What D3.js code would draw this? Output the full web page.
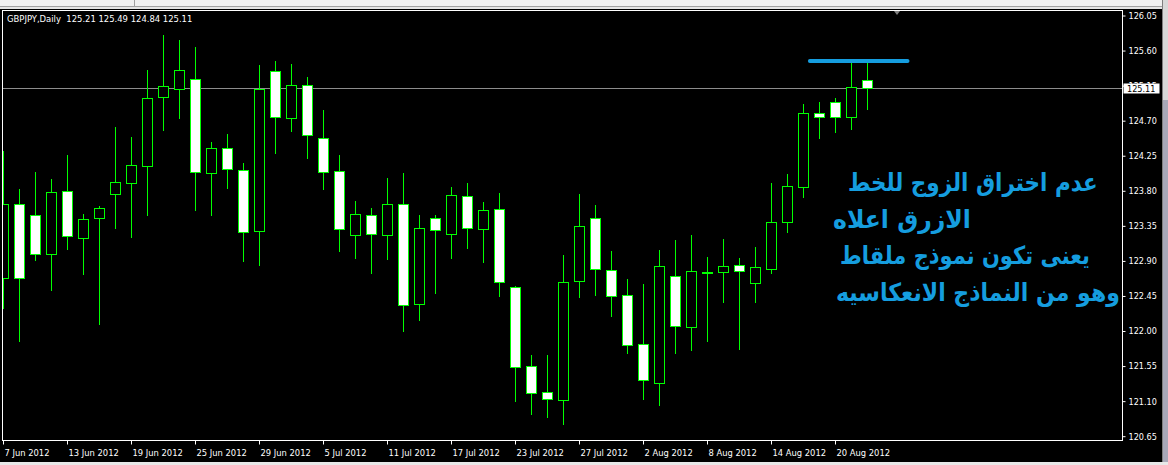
<!DOCTYPE html>
<html>
<head>
<meta charset="utf-8">
<script src="https://cdn.jsdelivr.net/npm/d3@7/dist/d3.min.js"></script>
<style>
  html, body { margin: 0; padding: 0; background: #000; overflow: hidden; }
  svg { display: block; }
</style>
</head>
<body>
<svg id="chart" width="1168" height="465"></svg>
<script>
// ---------- DATA ----------
const symbol = "GBPJPY,Daily";
const lastQuote = [125.21, 125.49, 124.84, 125.11]; // O H L C of last bar

const dates = [
  "7 Jun 2012","8 Jun 2012","11 Jun 2012","12 Jun 2012","13 Jun 2012","14 Jun 2012","15 Jun 2012",
  "18 Jun 2012","19 Jun 2012","20 Jun 2012","21 Jun 2012","22 Jun 2012",
  "25 Jun 2012","26 Jun 2012","27 Jun 2012","28 Jun 2012","29 Jun 2012",
  "2 Jul 2012","3 Jul 2012","4 Jul 2012","5 Jul 2012","6 Jul 2012",
  "9 Jul 2012","10 Jul 2012","11 Jul 2012","12 Jul 2012","13 Jul 2012",
  "16 Jul 2012","17 Jul 2012","18 Jul 2012","19 Jul 2012","20 Jul 2012",
  "23 Jul 2012","24 Jul 2012","25 Jul 2012","26 Jul 2012","27 Jul 2012",
  "30 Jul 2012","31 Jul 2012","1 Aug 2012","2 Aug 2012","3 Aug 2012",
  "6 Aug 2012","7 Aug 2012","8 Aug 2012","9 Aug 2012","10 Aug 2012",
  "13 Aug 2012","14 Aug 2012","15 Aug 2012","16 Aug 2012","17 Aug 2012",
  "20 Aug 2012","21 Aug 2012","22 Aug 2012"
];

const opens  = [122.670,123.624,123.479,122.978,123.787,123.184,123.440,123.748,123.890,124.108,
                124.994,125.104,125.225,124.018,124.339,124.056,123.273,125.327,124.724,125.148,
                124.467,124.044,123.222,123.479,123.222,123.620,122.336,123.440,123.235,123.723,
                123.299,123.556,122.554,121.540,121.207,121.104,122.632,123.440,122.773,122.452,
                121.823,121.322,122.696,122.041,122.755,122.747,122.837,122.606,122.796,123.399,
                123.838,124.788,124.929,124.737,125.21];
const highs  = [124.304,123.816,124.035,123.945,124.253,123.495,123.598,124.612,124.484,125.340,
                125.793,125.729,125.639,124.420,124.522,124.146,125.408,125.460,125.421,125.254,
                124.830,124.253,123.662,123.569,123.958,124.022,123.483,123.483,123.842,123.893,
                123.649,123.765,122.571,121.685,121.685,122.969,123.752,123.611,123.020,122.661,
                122.597,123.033,123.162,123.226,122.943,123.175,122.931,123.072,123.893,124.009,
                124.908,124.929,124.985,125.460,125.49];
const lows   = [122.285,121.869,122.909,122.524,123.050,122.729,122.087,123.320,123.204,123.486,
                124.578,124.732,123.551,123.486,123.833,122.896,122.845,124.282,124.565,124.218,
                123.820,123.024,122.934,122.742,122.922,121.997,122.139,122.485,122.934,123.063,
                122.883,122.447,121.099,120.932,120.893,120.804,122.434,122.459,122.190,121.715,
                121.125,121.047,121.715,121.753,121.869,122.370,121.766,122.370,122.742,123.271,
                123.717,124.475,124.552,124.590,124.84];
const closes = [123.624,122.678,122.978,123.774,123.209,123.427,123.569,123.902,124.121,124.981,
                125.135,125.340,124.031,124.339,124.069,123.261,125.096,124.737,125.148,124.506,
                124.031,123.299,123.492,123.235,123.620,122.323,123.312,123.286,123.735,123.312,
                123.543,122.619,121.528,121.194,121.117,122.619,123.338,122.786,122.439,121.810,
                121.361,122.824,122.054,122.760,122.755,122.824,122.760,122.811,123.389,123.851,
                124.788,124.737,124.737,125.122,125.11];

const priceTicks = [126.05,125.60,125.15,124.70,124.25,123.80,123.35,122.90,122.45,122.00,121.55,121.10,120.65];
const tickLabels = ["7 Jun 2012","13 Jun 2012","19 Jun 2012","25 Jun 2012","29 Jun 2012","5 Jul 2012",
                    "11 Jul 2012","17 Jul 2012","23 Jul 2012","27 Jul 2012","2 Aug 2012","8 Aug 2012",
                    "14 Aug 2012","20 Aug 2012"];
const resistanceLevel = 125.46;
const resistanceSpan = [50.4, 56.5]; // in bar units
const noteLines = [
  "عدم اختراق الزوج للخط",
  "الازرق اعلاه",
  "يعنى تكون نموذج ملقاط",
  "وهو من النماذج الانعكاسيه"
];

// ---------- LAYOUT ----------
const W = 1168, H = 465;
const plot = { left: 2.5, top: 10.5, right: 1122.5, bottom: 440.5 };
const axisFont = "'DejaVu Sans Condensed','Liberation Sans Narrow','DejaVu Sans',sans-serif";
const green = "#00ff00";
const blue = "#159ddf";

const svg = d3.select("#chart");

// window chrome
svg.append("rect").attr("x",0).attr("y",0).attr("width",W).attr("height",H).attr("fill","#000");
svg.append("rect").attr("x",0).attr("y",0).attr("width",W).attr("height",7).attr("fill","#f0f0f0");
svg.append("line").attr("x1",0).attr("x2",W).attr("y1",6.5).attr("y2",6.5).attr("stroke","#a0a0a0");
svg.append("rect").attr("x",0).attr("y",7).attr("width",W).attr("height",2).attr("fill","#e4e4e4");
svg.append("line").attr("x1",134.5).attr("x2",134.5).attr("y1",0).attr("y2",6).attr("stroke","#a0a0a0");
svg.append("rect").attr("x",1162).attr("y",0).attr("width",6).attr("height",100).attr("fill","#d8d8d8");
svg.append("rect").attr("x",1162).attr("y",100).attr("width",6).attr("height",365).attr("fill","#a8a8b8");
svg.append("line").attr("x1",1162.5).attr("x2",1162.5).attr("y1",0).attr("y2",H).attr("stroke","#808080");
svg.append("rect").attr("x",0).attr("y",462).attr("width",W).attr("height",3).attr("fill","#e8e8e8");

// scales
const x = d3.scaleLinear().domain([0, dates.length - 1]).range([3.5, 3.5 + 16 * (dates.length - 1)]);
const y = d3.scaleLinear().domain([120.65, 126.05]).range([435.7, 15]);
const snap = v => Math.round(v) + 0.5;

// clip
svg.append("clipPath").attr("id","plotClip").append("rect")
  .attr("x", plot.left).attr("y", plot.top)
  .attr("width", plot.right - plot.left).attr("height", plot.bottom - plot.top);

const g = svg.append("g").attr("clip-path","url(#plotClip)");

// current price line
g.append("line")
  .attr("x1", plot.left).attr("x2", plot.right)
  .attr("y1", snap(y(lastQuote[3]))).attr("y2", snap(y(lastQuote[3])))
  .attr("stroke", "#8c8c8c").attr("stroke-width", 1);

// candles
const bars = dates.map((d, i) => ({ i, o: opens[i], h: highs[i], l: lows[i], c: closes[i] }));
const cg = g.selectAll("g.candle").data(bars).join("g").attr("class","candle");
cg.append("line")
  .attr("x1", d => x(d.i)).attr("x2", d => x(d.i))
  .attr("y1", d => Math.round(y(d.h))).attr("y2", d => Math.round(y(d.l)) + 1)
  .attr("stroke", green).attr("stroke-width", 1);
cg.append("rect")
  .attr("x", d => x(d.i) - 5)
  .attr("width", 10)
  .attr("y", d => snap(y(Math.max(d.o, d.c))))
  .attr("height", d => Math.max(1, snap(y(Math.min(d.o, d.c))) - snap(y(Math.max(d.o, d.c)))))
  .attr("fill", d => d.c < d.o ? "#ffffff" : "#000000")
  .attr("stroke", green).attr("stroke-width", 1);

// resistance line
g.append("line")
  .attr("x1", x(resistanceSpan[0])).attr("x2", x(resistanceSpan[1]))
  .attr("y1", y(resistanceLevel)).attr("y2", y(resistanceLevel))
  .attr("stroke", blue).attr("stroke-width", 4).attr("stroke-linecap","round");

// note text (scaled horizontally to the reference's widths)
const nt = g.append("g");
const noteX = [848, 833, 840, 836];
const noteY = [191, 228, 264, 301];
const noteW = [250, 138, 250, 284];
noteLines.forEach((t, k) => {
  const gg = nt.append("g");
  const tx = gg.append("text")
    .attr("x", 0).attr("y", 0)
    .attr("fill", blue)
    .attr("font-family", "'DejaVu Sans', sans-serif")
    .attr("font-weight", "bold")
    .attr("font-size", "25px")
    .attr("text-anchor", "start")
    .text(t);
  const nat = tx.node().getComputedTextLength() || noteW[k];
  const sx = noteW[k] / nat;
  gg.attr("transform", `translate(${noteX[k]},${noteY[k]}) scale(${sx},1)`);
});

// frame
svg.append("rect")
  .attr("x", plot.left).attr("y", plot.top)
  .attr("width", plot.right - plot.left).attr("height", plot.bottom - plot.top)
  .attr("fill", "none").attr("stroke", "#ffffff").attr("stroke-width", 1);

// shift marker triangle
svg.append("path").attr("d", "M894,11 L900,11 L897,15 Z").attr("fill", "#808080");

// header
svg.append("text")
  .attr("x", 7).attr("y", 21.5)
  .attr("fill", "#ffffff")
  .attr("font-family", axisFont).attr("font-size", "9.4px")
  .attr("xml:space", "preserve")
  .text(symbol + "  " + lastQuote.map(v => v.toFixed(2)).join(" "));

// price axis
const yAxis = d3.axisRight(y).tickValues(priceTicks).tickFormat(d3.format(".2f")).tickSize(3).tickPadding(3);
const ya = svg.append("g").attr("transform", `translate(${plot.right},0.5)`).call(yAxis);
ya.select(".domain").remove();
ya.selectAll(".tick line").attr("stroke", "#ffffff");
ya.selectAll(".tick text").attr("fill", "#ffffff").attr("font-family", axisFont).attr("font-size", "9px");

// current price label box
const cy = snap(y(lastQuote[3]));
svg.append("rect").attr("x", 1123.5).attr("y", cy - 5).attr("width", 36).attr("height", 10)
  .attr("fill", "#ffffff");
svg.append("text").attr("x", 1127).attr("y", cy).attr("dy", "0.35em")
  .attr("fill", "#000").attr("font-family", axisFont).attr("font-size", "9px")
  .text(lastQuote[3].toFixed(2));

// time axis
const tickIdx = tickLabels.map(t => dates.indexOf(t));
const xa = svg.append("g").attr("transform", `translate(0,${plot.bottom})`);
tickIdx.forEach((ix, k) => {
  const px = x(ix);
  xa.append("line").attr("x1", px).attr("x2", px).attr("y1", 0).attr("y2", 4).attr("stroke", "#ffffff");
  xa.append("text").attr("x", px + 1).attr("y", 15.5)
    .attr("fill", "#ffffff").attr("font-family", axisFont).attr("font-size", "9.3px")
    .text(tickLabels[k]);
});
</script>
</body>
</html>
